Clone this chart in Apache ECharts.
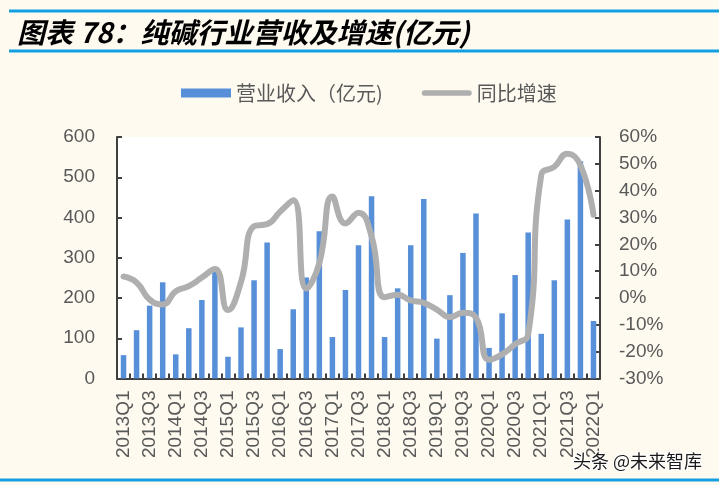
<!DOCTYPE html>
<html><head><meta charset="utf-8">
<script src="https://cdn.jsdelivr.net/npm/echarts@6/dist/echarts.min.js"></script>
<style>html,body{margin:0;padding:0;background:#FEFAF0;}#c{width:719px;height:485px;}</style>
</head><body><div id="c"></div>
<script>
const categories = ['2013Q1','2013Q2','2013Q3','2013Q4','2014Q1','2014Q2','2014Q3','2014Q4',
  '2015Q1','2015Q2','2015Q3','2015Q4','2016Q1','2016Q2','2016Q3','2016Q4',
  '2017Q1','2017Q2','2017Q3','2017Q4','2018Q1','2018Q2','2018Q3','2018Q4',
  '2019Q1','2019Q2','2019Q3','2019Q4','2020Q1','2020Q2','2020Q3','2020Q4',
  '2021Q1','2021Q2','2021Q3','2021Q4','2022Q1'];
const revenue = [58,120,181,239,60,125,195,268,54,127,244,338,73,172,251,366,
  103,220,331,453,103,224,331,446,99,207,312,410,76,162,257,363,111,244,395,540,143];
const growth = [8,5.8,-0.6,-2.4,2.5,4.4,7.6,10.8,-4.5,6,26.8,27.5,32.2,36.4,3.5,13,
  37.8,27.8,31.8,23,0.3,1.2,-0.9,-1.8,-4.3,-7.1,-5.5,-7.3,-23,-21,-17.2,-13.5,
  45.8,48.9,53.8,49.5,31];
const seriesNames = ['营业收入（亿元)', '同比增速'];
const titleText = '图表 78：纯碱行业营收及增速(亿元)';

const chart = echarts.init(document.getElementById('c'), null, {renderer:'canvas'});
const axisLineStyle = {color:'#404040', width:2};
const labelStyle = {color:'#595959', fontSize:19, fontFamily:'Liberation Sans, Arial'};
chart.setOption({
  backgroundColor:'#FEFAF0',
  animation:false,
  title:{text:titleText, left:12, top:13,
    textStyle:{fontSize:28, fontWeight:'bold', fontStyle:'italic', color:'#000', fontFamily:'Noto Sans CJK SC'}},
  legend:{left:176, top:78, itemWidth:50, itemHeight:9, itemGap:39,
    textStyle:{fontSize:20, color:'#595959', fontFamily:'Noto Sans CJK SC'},
    data:[{name:seriesNames[0], icon:'rect'},
          {name:seriesNames[1], icon:'path://M3,0L50,0A3,3,0,0,1,50,6L3,6A3,3,0,0,1,3,0Z'}]},
  grid:{left:117, right:119, top:137, bottom:106.5, show:true, backgroundColor:'#ffffff', borderWidth:0},
  xAxis:{type:'category', data:categories, boundaryGap:true,
    axisLine:{lineStyle:axisLineStyle},
    axisTick:{show:true, inside:true, length:5, interval:0, lineStyle:axisLineStyle},
    axisLabel:Object.assign({rotate:90, interval:1, margin:12}, labelStyle)},
  yAxis:[
    {type:'value', min:0, max:600, interval:100, position:'left',
     axisLine:{show:true, lineStyle:axisLineStyle},
     axisTick:{show:true, inside:true, length:5, lineStyle:axisLineStyle},
     splitLine:{show:false},
     axisLabel:Object.assign({margin:22}, labelStyle)},
    {type:'value', min:-30, max:60, interval:10, position:'right',
     axisLine:{show:true, lineStyle:axisLineStyle},
     axisTick:{show:true, inside:true, length:5, lineStyle:axisLineStyle},
     splitLine:{show:false},
     axisLabel:Object.assign({margin:19, formatter:'{value}%'}, labelStyle)}
  ],
  series:[
    {name:seriesNames[0], type:'bar', data:revenue, barWidth:5.5, itemStyle:{color:'#5790D9'}, z:2},
    {name:seriesNames[1], type:'line', yAxisIndex:1, data:growth, smooth:0.5, symbol:'none',
     itemStyle:{color:'#AFAFAF'},
     lineStyle:{color:'#AFAFAF', width:6, cap:'round', join:'round'}, z:3}
  ],
  graphic:[
    {type:'rect', shape:{x:9, y:9.5, width:710, height:3}, style:{fill:'#139FE2'}},
    {type:'rect', shape:{x:9, y:49.5, width:710, height:3}, style:{fill:'#139FE2'}},
    {type:'rect', shape:{x:0, y:478.5, width:719, height:3}, style:{fill:'#139FE2'}},
    {type:'text', left:572, top:451, z:10,
     style:{text:'头条 @未来智库', fontSize:18, fill:'#1a1a1a', fontFamily:'Noto Sans CJK SC',
       stroke:'#ffffff', lineWidth:2}}
  ]
});
</script></body></html>
